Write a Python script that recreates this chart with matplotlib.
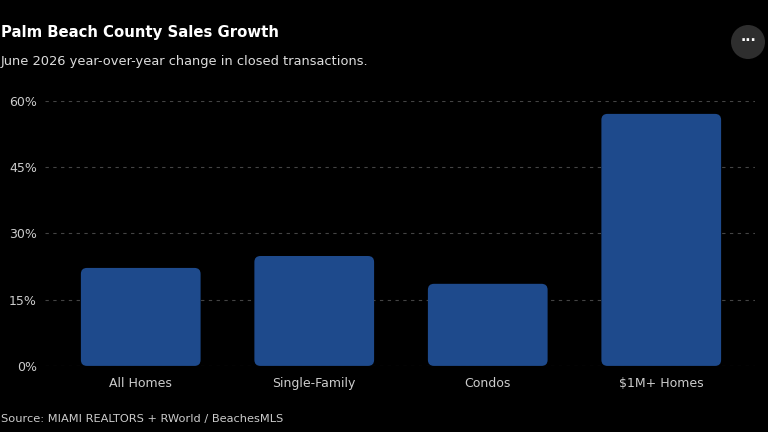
import matplotlib.pyplot as plt
from matplotlib.patches import FancyBboxPatch, Circle

# values (% change, June 2026 YoY)
labels = ['All Homes', 'Single-Family', 'Condos', '$1M+ Homes']
values = [22.2, 24.9, 18.6, 57.1]

fig = plt.figure(figsize=(7.68, 4.32), dpi=100, facecolor='black')
ax = fig.add_axes([0.059, 0.153, 0.924, 0.613], facecolor='black')

width = 0.69
for i, v in enumerate(values):
    bar = FancyBboxPatch((i - width / 2, 0), width, v,
                         boxstyle='round,pad=0,rounding_size=0.035',
                         mutation_aspect=39, facecolor='#1e4a8c',
                         edgecolor='none', clip_on=False)
    ax.add_patch(bar)

ax.set_xlim(-0.55, 3.54)
ax.set_ylim(0, 60)
ax.set_yticks([0, 15, 30, 45, 60])
ax.set_yticklabels([f'{t}%' for t in [0, 15, 30, 45, 60]])
ax.set_xticks(range(len(labels)))
ax.set_xticklabels(labels)
ax.tick_params(colors='#cccccc', labelsize=9, length=0)
ax.tick_params(axis='x', pad=8)
ax.tick_params(axis='y', pad=6)
ax.yaxis.grid(True, color='#444444', linestyle=(0, (3, 4)), linewidth=0.8)
ax.set_axisbelow(True)
for s in ax.spines.values():
    s.set_visible(False)

fig.text(0.001, 0.925, 'Palm Beach County Sales Growth', color='white',
         fontsize=10.7, fontweight='bold', va='center')
fig.text(0.001, 0.857, 'June 2026 year-over-year change in closed transactions.',
         color='#dddddd', fontsize=9.4, va='center')
fig.text(0.001, 0.03, 'Source: MIAMI REALTORS + RWorld / BeachesMLS',
         color='#cccccc', fontsize=8.2, va='center')

# menu button top right
fig.patches.append(Circle((748, 432 - 42), 17, transform=None,
                          facecolor='#2e2e2e', edgecolor='none'))
fig.text(748 / 768, 1 - 41 / 432, '···', color='white', fontsize=10,
         ha='center', va='center', fontweight='bold')

fig.savefig('out.png', dpi=100, facecolor='black')
